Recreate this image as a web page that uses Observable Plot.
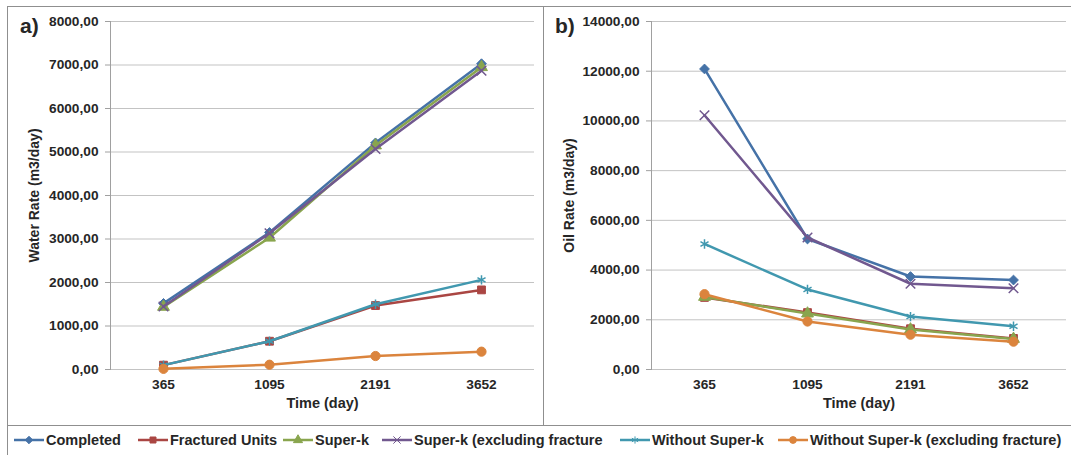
<!DOCTYPE html>
<html>
<head>
<meta charset="utf-8">
<script src="https://cdn.jsdelivr.net/npm/d3@7"></script>
<script src="https://cdn.jsdelivr.net/npm/@observablehq/plot@0.6"></script>
<style>
  html, body { margin: 0; padding: 0; background: #fff; }
  body { width: 1071px; height: 455px; position: relative; overflow: hidden;
         font-family: "Liberation Sans", Arial, sans-serif; color: #262626; }
  .abs { position: absolute; }
  .box { position: absolute; border: 1px solid #8f8f8f; box-sizing: border-box; pointer-events: none; }
  .tag { position: absolute; font-weight: bold; font-size: 21px; line-height: 1; }
  .leg { position: absolute; top: 432px; height: 16px; display: flex; align-items: center;
         font-weight: bold; font-size: 14.5px; white-space: nowrap; }
  .leg svg { margin-right: 2px; }
</style>
</head>
<body>
<div id="a" class="abs" style="left:0;top:0;"></div>
<div id="b" class="abs" style="left:543px;top:0;"></div>
<div class="box" style="left:7px;top:6px;width:537px;height:420px;"></div>
<div class="box" style="left:543px;top:6px;width:540px;height:420px;"></div>
<div class="box" style="left:7px;top:425px;width:1080px;height:40px;"></div>
<div class="tag" style="left:20px;top:15px;">a)</div>
<div class="tag" style="left:555px;top:15px;">b)</div>
<div id="legend"></div>
<script>
// ---- data ----
const days = ["365", "1095", "2191", "3652"];
const seriesNames = [
  "Completed",
  "Fractured Units",
  "Super-k",
  "Super-k (excluding fracture",
  "Without Super-k",
  "Without Super-k (excluding fracture)"
];
const seriesColors = ["#4572A7", "#AA4643", "#89A54E", "#71588F", "#4198AF", "#DB843D"];
const seriesSymbols = ["diamond2", "square", "triangle", "times", "asterisk", "circle"];

// a) Water Rate (m3/day)
const waterCompleted      = [1520, 3150, 5210, 7030];
const waterFractured      = [100, 650, 1470, 1830];
const waterSuperK         = [1440, 3030, 5150, 6950];
const waterSuperKExcl     = [1450, 3130, 5070, 6870];
const waterWithout        = [100, 650, 1500, 2060];
const waterWithoutExcl    = [15, 110, 310, 410];

// b) Oil Rate (m3/day)
const oilCompleted        = [12090, 5250, 3740, 3600];
const oilFractured        = [2900, 2290, 1640, 1250];
const oilSuperK           = [2920, 2250, 1610, 1230];
const oilSuperKExcl       = [10230, 5310, 3450, 3270];
const oilWithout          = [5050, 3220, 2130, 1740];
const oilWithoutExcl      = [3030, 1930, 1400, 1120];

const waterTicks = [0, 1000, 2000, 3000, 4000, 5000, 6000, 7000, 8000];
const oilTicks = [0, 2000, 4000, 6000, 8000, 10000, 12000, 14000];

const waterSeries = [waterCompleted, waterFractured, waterSuperK, waterSuperKExcl, waterWithout, waterWithoutExcl];
const oilSeries = [oilCompleted, oilFractured, oilSuperK, oilSuperKExcl, oilWithout, oilWithoutExcl];

const fmt = d => d3.format(".2f")(d).replace(".", ",");

function tidy(series) {
  return series.map((vals, i) => vals.map((v, j) => ({day: days[j], value: v, series: seriesNames[i]})));
}

function chart(series, ticks, yLabel, width, marginLeft, marginRight, yLabelOffset) {
  const groups = tidy(series);
  const marks = [
    Plot.gridY(ticks, {stroke: "#c3c3c3", strokeOpacity: 1, strokeWidth: 1}),
    Plot.frame({anchor: "left", stroke: "#a0a0a0"}),
    Plot.axisY(ticks, {tickFormat: fmt, tickSize: 5, tickPadding: 7, stroke: "#a0a0a0", fontSize: 13.7,
      label: null}),
    Plot.axisY({label: yLabel, labelAnchor: "center", labelArrow: "none", labelOffset: yLabelOffset,
      ticks: [], fontSize: 14}),
    Plot.axisX({tickSize: 0, tickPadding: 10, fontSize: 13.7, label: null}),
    Plot.axisX({ticks: [], label: "Time (day)", labelAnchor: "center",
      labelArrow: "none", labelOffset: 38, fontSize: 14.5})
  ];
  groups.forEach((g, i) => {
    const sym = seriesSymbols[i];
    const open = sym === "times" || sym === "asterisk";
    marks.push(Plot.line(g, {x: "day", y: "value", stroke: "series", strokeWidth: 2.5}));
    marks.push(Plot.dot(g, {x: "day", y: "value", symbol: "series", stroke: "series",
      fill: open ? "none" : "series", strokeWidth: open ? 1.5 : 1, r: sym === "circle" ? 4.6 : 4.4}));
  });
  return Plot.plot({
    width, height: 425,
    marginLeft, marginRight, marginTop: 21, marginBottom: 56,
    style: {fontFamily: "'Liberation Sans', Arial, sans-serif", fontSize: "13.7px", fontWeight: "bold",
      color: "#262626", background: "transparent", overflow: "visible"},
    x: {type: "point", domain: days, padding: 0.5, label: null},
    y: {domain: [0, ticks[ticks.length - 1]], label: null},
    color: {domain: seriesNames, range: seriesColors},
    symbol: {domain: seriesNames, range: seriesSymbols},
    marks
  });
}

document.getElementById("a").append(chart(waterSeries, waterTicks, "Water Rate (m3/day)", 543, 110, 9, 81));
document.getElementById("b").append(chart(oilSeries, oilTicks, "Oil Rate (m3/day)", 528, 108, 5, 87));

// ---- legend ----
const legendLeft = [14, 138, 283, 382, 620, 778];
const legend = document.getElementById("legend");
seriesNames.forEach((name, i) => {
  const item = document.createElement("div");
  item.className = "leg";
  item.style.left = legendLeft[i] + "px";
  const svg = d3.create("svg").attr("width", 30).attr("height", 12);
  svg.append("line").attr("x1", 0).attr("x2", 30).attr("y1", 6).attr("y2", 6)
    .attr("stroke", seriesColors[i]).attr("stroke-width", 2.5);
  const symMap = {diamond2: d3.symbolDiamond2, square: d3.symbolSquare, triangle: d3.symbolTriangle,
    times: d3.symbolTimes, asterisk: d3.symbolAsterisk, circle: d3.symbolCircle};
  const open = seriesSymbols[i] === "times" || seriesSymbols[i] === "asterisk";
  svg.append("path").attr("transform", "translate(15,6)")
    .attr("d", d3.symbol(symMap[seriesSymbols[i]], 36)())
    .attr("fill", open ? "none" : seriesColors[i]).attr("stroke", seriesColors[i]).attr("stroke-width", 1);
  item.append(svg.node());
  const t = document.createElement("span");
  t.textContent = name;
  item.append(t);
  legend.append(item);
});
</script>
</body>
</html>
